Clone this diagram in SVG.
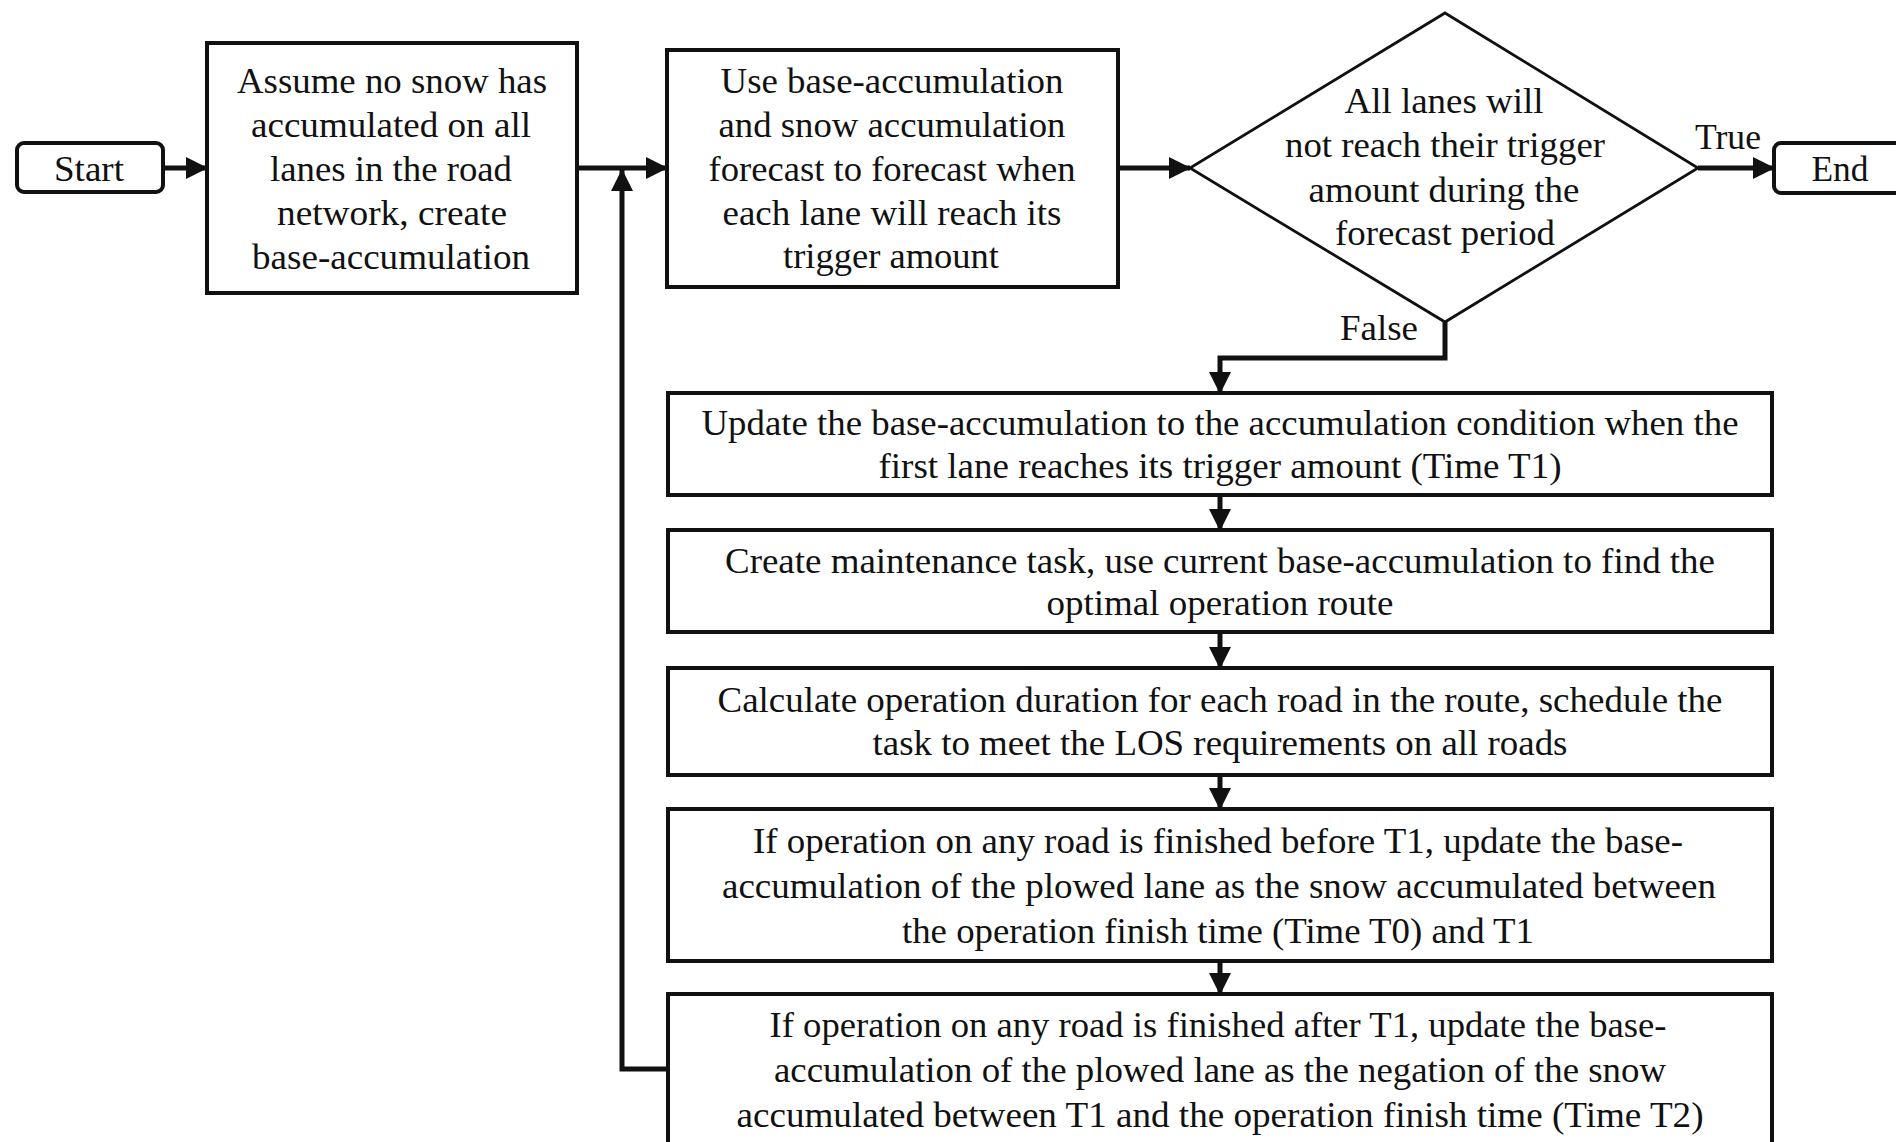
<svg xmlns="http://www.w3.org/2000/svg" width="1896" height="1142" viewBox="0 0 1896 1142">
<defs>
<marker id="ah" markerUnits="userSpaceOnUse" markerWidth="24" markerHeight="24" refX="21" refY="11" orient="auto">
<path d="M0,0 L22,11 L0,22 z" fill="#111"/>
</marker>
<style>
.box{fill:#fff;stroke:#111;stroke-width:4}
.term{fill:#fff;stroke:#111;stroke-width:4}
.dia{fill:#fff;stroke:#111;stroke-width:2.8}
.t{font-family:"Liberation Serif","Times New Roman",serif;font-size:35px;fill:#111;text-anchor:middle}
.c{fill:none;stroke:#111;stroke-width:5;marker-end:url(#ah)}
</style>
</defs>
<rect width="1896" height="1142" fill="#fff"/>

<g id="connectors">
<path class="c" d="M163,168 L207,168"/>
<path class="c" d="M578,168 L667,168"/>
<path class="c" d="M1118,168 L1190,168"/>
<path class="c" d="M1698,168 L1774,168"/>
<path class="c" d="M1445,322 L1445,358 L1220,358 L1220,393"/>
<path class="c" d="M1220,495 L1220,530"/>
<path class="c" d="M1220,632 L1220,668"/>
<path class="c" d="M1220,775 L1220,809"/>
<path class="c" d="M1220,961 L1220,994"/>
<path class="c" d="M668,1069 L622,1069 L622,170"/>
<text class="t" x="1728" y="149" textLength="66" lengthAdjust="spacingAndGlyphs">True</text>
<text class="t" x="1379" y="340" textLength="78" lengthAdjust="spacingAndGlyphs">False</text>
</g>

<g id="start">
<rect class="term" x="17" y="143" width="146" height="49" rx="7"/>
<text class="t" x="89" y="181" textLength="70" lengthAdjust="spacingAndGlyphs">Start</text>
</g>

<g id="init">
<rect class="box" x="207" y="43" width="370" height="250"/>
<text class="t" x="392" y="93" textLength="310" lengthAdjust="spacingAndGlyphs">Assume no snow has</text>
<text class="t" x="391" y="137" textLength="280" lengthAdjust="spacingAndGlyphs">accumulated on all</text>
<text class="t" x="391" y="181" textLength="242" lengthAdjust="spacingAndGlyphs">lanes in the road</text>
<text class="t" x="392" y="225" textLength="230" lengthAdjust="spacingAndGlyphs">network, create</text>
<text class="t" x="391" y="269" textLength="278" lengthAdjust="spacingAndGlyphs">base-accumulation</text>
</g>

<g id="forecast">
<rect class="box" x="667" y="50" width="451" height="237"/>
<text class="t" x="892" y="93" textLength="343" lengthAdjust="spacingAndGlyphs">Use base-accumulation</text>
<text class="t" x="892" y="137" textLength="347" lengthAdjust="spacingAndGlyphs">and snow accumulation</text>
<text class="t" x="892" y="181" textLength="367" lengthAdjust="spacingAndGlyphs">forecast to forecast when</text>
<text class="t" x="892" y="225" textLength="339" lengthAdjust="spacingAndGlyphs">each lane will reach its</text>
<text class="t" x="891" y="268" textLength="216" lengthAdjust="spacingAndGlyphs">trigger amount</text>
</g>

<g id="decision">
<polygon class="dia" points="1445,13 1698,168 1445,322 1190,168"/>
<text class="t" x="1444" y="113" textLength="199" lengthAdjust="spacingAndGlyphs">All lanes will</text>
<text class="t" x="1445" y="157" textLength="320" lengthAdjust="spacingAndGlyphs">not reach their trigger</text>
<text class="t" x="1444" y="202" textLength="271" lengthAdjust="spacingAndGlyphs">amount during the</text>
<text class="t" x="1445" y="245" textLength="220" lengthAdjust="spacingAndGlyphs">forecast period</text>
</g>

<g id="end">
<rect class="term" x="1774" y="143" width="150" height="50" rx="7"/>
<text class="t" x="1840" y="181" textLength="57" lengthAdjust="spacingAndGlyphs">End</text>
</g>

<g id="update-base">
<rect class="box" x="668" y="393" width="1104" height="102"/>
<text class="t" x="1220" y="435" textLength="1037" lengthAdjust="spacingAndGlyphs">Update the base-accumulation to the accumulation condition when the</text>
<text class="t" x="1220" y="478" textLength="683" lengthAdjust="spacingAndGlyphs">first lane reaches its trigger amount (Time T1)</text>
</g>

<g id="create-task">
<rect class="box" x="668" y="530" width="1104" height="102"/>
<text class="t" x="1220" y="573" textLength="990" lengthAdjust="spacingAndGlyphs">Create maintenance task, use current base-accumulation to find the</text>
<text class="t" x="1220" y="615" textLength="347" lengthAdjust="spacingAndGlyphs">optimal operation route</text>
</g>

<g id="schedule">
<rect class="box" x="668" y="668" width="1104" height="107"/>
<text class="t" x="1220" y="712" textLength="1005" lengthAdjust="spacingAndGlyphs">Calculate operation duration for each road in the route, schedule the</text>
<text class="t" x="1220" y="755" textLength="695" lengthAdjust="spacingAndGlyphs">task to meet the LOS requirements on all roads</text>
</g>

<g id="before-t1">
<rect class="box" x="668" y="809" width="1104" height="152"/>
<text class="t" x="1218" y="853" textLength="930" lengthAdjust="spacingAndGlyphs">If operation on any road is finished before T1, update the base-</text>
<text class="t" x="1219" y="898" textLength="994" lengthAdjust="spacingAndGlyphs">accumulation of the plowed lane as the snow accumulated between</text>
<text class="t" x="1218" y="943" textLength="632" lengthAdjust="spacingAndGlyphs">the operation finish time (Time T0) and T1</text>
</g>

<g id="after-t1">
<rect class="box" x="668" y="994" width="1104" height="150"/>
<text class="t" x="1218" y="1037" textLength="897" lengthAdjust="spacingAndGlyphs">If operation on any road is finished after T1, update the base-</text>
<text class="t" x="1220" y="1082" textLength="892" lengthAdjust="spacingAndGlyphs">accumulation of the plowed lane as the negation of the snow</text>
<text class="t" x="1220" y="1127" textLength="967" lengthAdjust="spacingAndGlyphs">accumulated between T1 and the operation finish time (Time T2)</text>
</g>
</svg>
